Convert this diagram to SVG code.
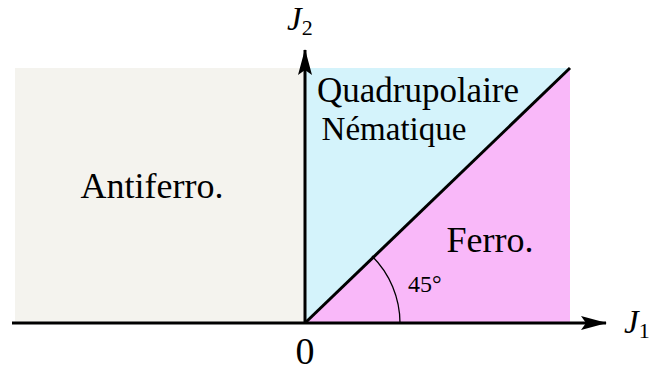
<svg xmlns="http://www.w3.org/2000/svg" width="653" height="373" viewBox="0 0 653 373">
<style>
.t{font-family:"Liberation Serif","DejaVu Serif",serif;fill:#000}
.ax{stroke:#000;stroke-width:3;fill:none}
</style>
<defs>
<marker id="ah" markerWidth="30" markerHeight="16" refX="25" refY="7" orient="auto" markerUnits="userSpaceOnUse">
<path d="M0,0 L26,7 L0,14 L5,7 Z" fill="#000"/>
</marker>
</defs>
<g id="regions">
<rect id="antiferro-region" x="15" y="68" width="290" height="255" fill="#f4f3ee"/>
<polygon id="quad-region" points="305,68 570,68 305,323" fill="#d4f3fb"/>
<polygon id="ferro-region" points="305,323 570,68 570,323" fill="#f9b8f9"/>
</g>
<g id="connectors">
<line class="ax" x1="12" y1="323" x2="606" y2="323" marker-end="url(#ah)"/>
<line class="ax" x1="305" y1="323" x2="305" y2="50" marker-end="url(#ah)"/>
<line class="ax" x1="305" y1="323" x2="570" y2="68"/>
<path d="M400,323 A95,95 0 0 0 372,256" stroke="#000" stroke-width="1.3" fill="none"/>
</g>
<g id="labels">
<text class="t" x="287" y="30" font-size="33" font-style="italic">J<tspan font-size="22" font-style="normal" dy="5">2</tspan></text>
<text class="t" x="624" y="333" font-size="33" font-style="italic">J<tspan font-size="22" font-style="normal" dy="5">1</tspan></text>
<text class="t" x="305" y="364" font-size="38" text-anchor="middle">0</text>
<text class="t" x="152" y="198" font-size="36" text-anchor="middle">Antiferro.</text>
<text class="t" x="418" y="102" font-size="35" text-anchor="middle">Quadrupolaire</text>
<text class="t" x="394" y="140" font-size="33" text-anchor="middle">Nématique</text>
<text class="t" x="490" y="252" font-size="36" text-anchor="middle">Ferro.</text>
<text class="t" x="408" y="292" font-size="24">45°</text>
</g>
</svg>
